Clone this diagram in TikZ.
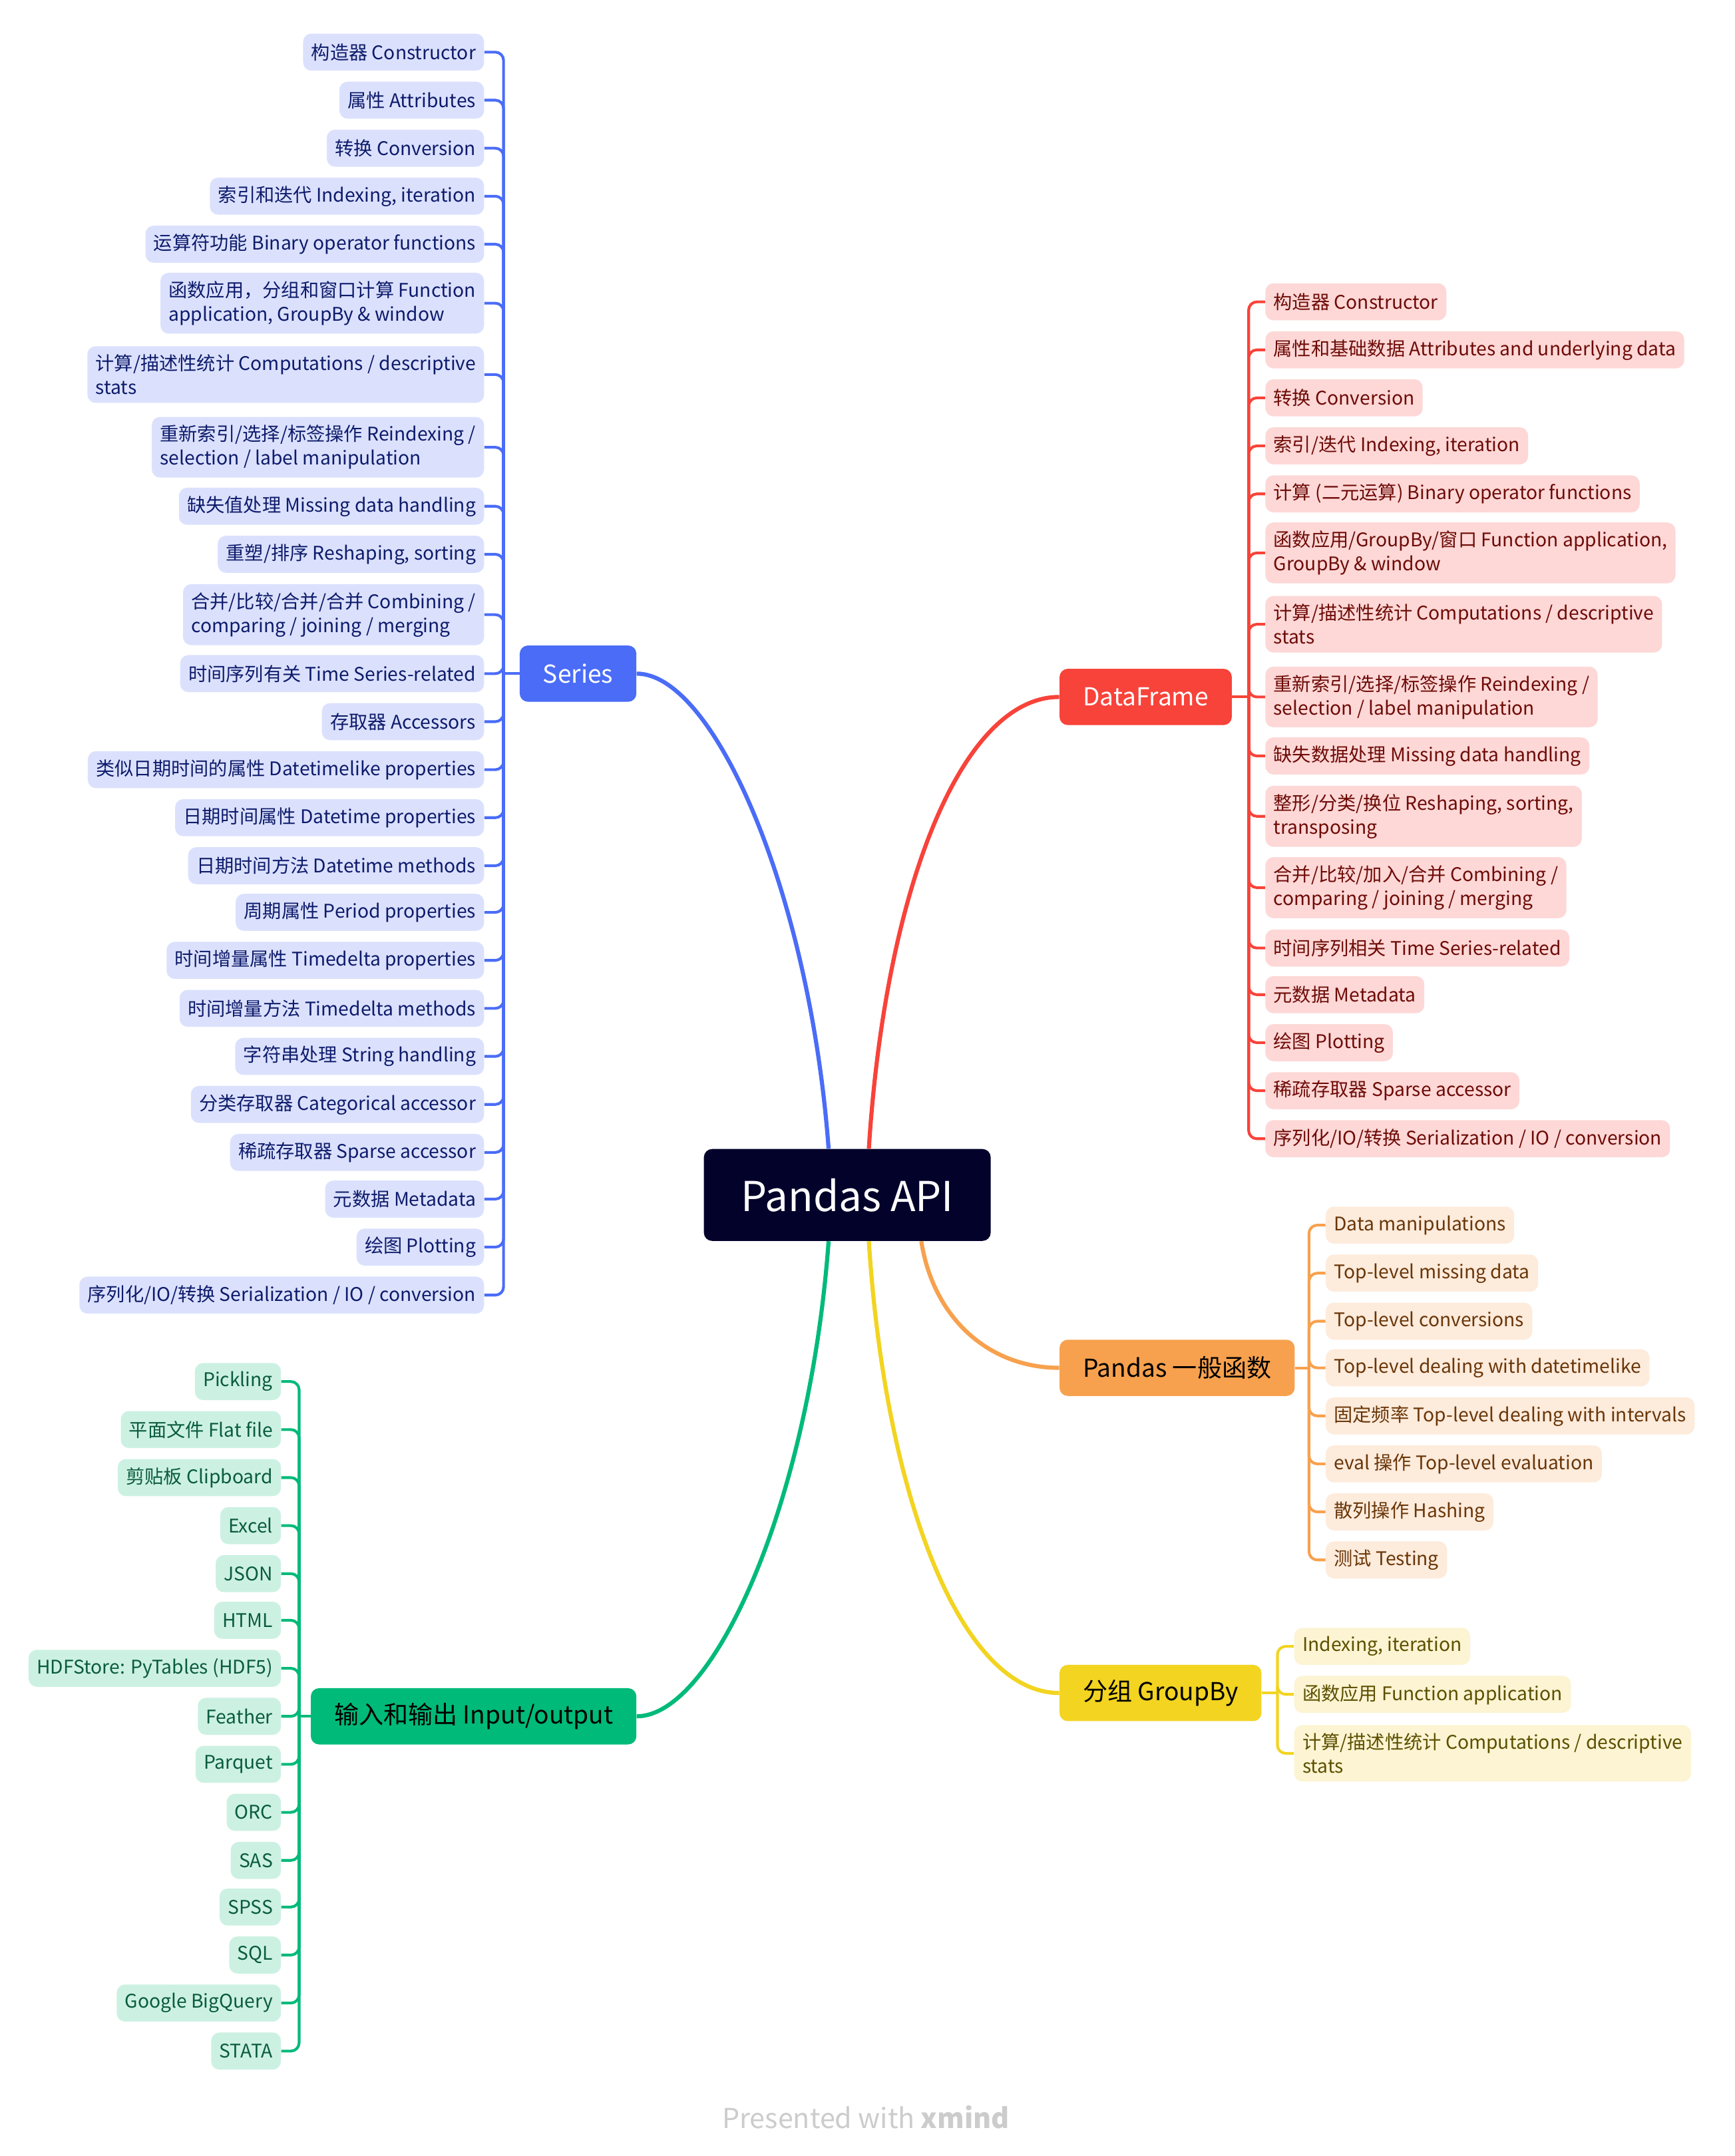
\documentclass[tikz,border=0pt]{standalone}
\usepackage{fontspec}
\setmainfont{Noto Sans CJK SC}

\definecolor{serblue}{HTML}{4A6CF7}
\definecolor{serfill}{HTML}{DBE1FD}
\definecolor{sertext}{HTML}{0E1B6B}
\definecolor{dfred}{HTML}{F7433A}
\definecolor{dffill}{HTML}{FDD8D7}
\definecolor{dftext}{HTML}{6E0B07}
\definecolor{fnorange}{HTML}{F7A14E}
\definecolor{fnfill}{HTML}{FDEBDC}
\definecolor{fntext}{HTML}{6A3608}
\definecolor{gbyellow}{HTML}{F2D421}
\definecolor{gbfill}{HTML}{FCF4D2}
\definecolor{gbtext}{HTML}{5C4F00}
\definecolor{iogreen}{HTML}{00BA7A}
\definecolor{iofill}{HTML}{CCF1E3}
\definecolor{iotext}{HTML}{0A5B3F}
\definecolor{rootbg}{HTML}{02022B}
\definecolor{markgray}{HTML}{CCCCCC}

\begin{document}
\begin{tikzpicture}[x=1pt,y=-1pt,
    leaf/.style={rounded corners=6pt,inner xsep=6pt,inner ysep=6pt,minimum height=27pt,
        align=left,font=\fontsize{13.7}{17.5}\selectfont},
    branch/.style={rounded corners=6pt,minimum height=41pt,inner xsep=17pt,
        font=\fontsize{18}{22}\selectfont},
    ser/.style={leaf,fill=serfill,text=sertext,anchor=east},
    df/.style={leaf,fill=dffill,text=dftext,anchor=west},
    fn/.style={leaf,fill=fnfill,text=fntext,anchor=west},
    gb/.style={leaf,fill=gbfill,text=gbtext,anchor=west},
    io/.style={leaf,fill=iofill,text=iotext,anchor=east},
    twig/.style={line width=2pt,rounded corners=6pt},
    limb/.style={line width=3pt}]
    \fill[white] (0,0) rectangle (1264,1571.5);
    \useasboundingbox (0,0) rectangle (1264,1571.5);

    % centre
    \node[fill=rootbg,text=white,rounded corners=6pt,minimum width=209pt,minimum height=67pt,
        font=\fontsize{30}{34}\selectfont] (root) at (617.5,871) {Pandas API};

    % main topics
    \node[branch,fill=serblue,text=white,anchor=east] (ser) at (464,491) {Series};
    \node[branch,fill=dfred,text=white,anchor=west] (df) at (772,508) {DataFrame};
    \node[branch,fill=fnorange,text=black,anchor=west] (fn) at (772,997) {Pandas 一般函数};
    \node[branch,fill=gbyellow,text=black,anchor=west] (gb) at (772,1234) {分组 GroupBy};
    \node[branch,fill=iogreen,text=black,anchor=east] (io) at (464,1251) {输入和输出 Input/output};

    \draw[limb,serblue] (root.112) .. controls (590,650) and (520,491) .. (ser.east);
    \draw[limb,dfred] (root.65) .. controls (645,650) and (700,508) .. (df.west);
    \draw[limb,fnorange] (root.-32.5) .. controls (680,960) and (720,997) .. (fn.west);
    \draw[limb,gbyellow] (root.-65) .. controls (645,1090) and (700,1234) .. (gb.west);
    \draw[limb,iogreen] (root.-112) .. controls (590,1095) and (520,1251) .. (io.east);

    % Series
    \node[ser] (s1) at (353,38) {构造器 Constructor};
    \node[ser] (s2) at (353,73) {属性 Attributes};
    \node[ser] (s3) at (353,108) {转换 Conversion};
    \node[ser] (s4) at (353,143) {索引和迭代 Indexing, iteration};
    \node[ser] (s5) at (353,178) {运算符功能 Binary operator functions};
    \node[ser] (s6) at (353,221) {函数应用，分组和窗口计算 Function\\application, GroupBy \& window};
    \node[ser] (s7) at (353,273) {计算/描述性统计 Computations / descriptive\\stats};
    \node[ser] (s8) at (353,326) {重新索引/选择/标签操作 Reindexing /\\selection / label manipulation};
    \node[ser] (s9) at (353,369) {缺失值处理 Missing data handling};
    \node[ser] (s10) at (353,404) {重塑/排序 Reshaping, sorting};
    \node[ser] (s11) at (353,448) {合并/比较/合并/合并 Combining /\\comparing / joining / merging};
    \node[ser] (s12) at (353,491) {时间序列有关 Time Series-related};
    \node[ser] (s13) at (353,526) {存取器 Accessors};
    \node[ser] (s14) at (353,561) {类似日期时间的属性 Datetimelike properties};
    \node[ser] (s15) at (353,596) {日期时间属性 Datetime properties};
    \node[ser] (s16) at (353,631) {日期时间方法 Datetime methods};
    \node[ser] (s17) at (353,665) {周期属性 Period properties};
    \node[ser] (s18) at (353,700) {时间增量属性 Timedelta properties};
    \node[ser] (s19) at (353,735) {时间增量方法 Timedelta methods};
    \node[ser] (s20) at (353,770) {字符串处理 String handling};
    \node[ser] (s21) at (353,805) {分类存取器 Categorical accessor};
    \node[ser] (s22) at (353,840) {稀疏存取器 Sparse accessor};
    \node[ser] (s23) at (353,874) {元数据 Metadata};
    \node[ser] (s24) at (353,909) {绘图 Plotting};
    \node[ser] (s25) at (353,944) {序列化/IO/转换 Serialization / IO / conversion};
    \coordinate (sj) at (367,491);
    \draw[twig,serblue] (ser.west) -- (sj);
    \foreach \i in {1,...,25} \draw[twig,serblue] (sj) |- (s\i.east);

    % DataFrame
    \node[df] (d1) at (922,220) {构造器 Constructor};
    \node[df] (d2) at (922,255) {属性和基础数据 Attributes and underlying data};
    \node[df] (d3) at (922,290) {转换 Conversion};
    \node[df] (d4) at (922,325) {索引/迭代 Indexing, iteration};
    \node[df] (d5) at (922,360) {计算 (二元运算) Binary operator functions};
    \node[df] (d6) at (922,403) {函数应用/GroupBy/窗口 Function application,\\GroupBy \& window};
    \node[df] (d7) at (922,455) {计算/描述性统计 Computations / descriptive\\stats};
    \node[df] (d8) at (922,508) {重新索引/选择/标签操作 Reindexing /\\selection / label manipulation};
    \node[df] (d9) at (922,551) {缺失数据处理 Missing data handling};
    \node[df] (d10) at (922,595) {整形/分类/换位 Reshaping, sorting,\\transposing};
    \node[df] (d11) at (922,647) {合并/比较/加入/合并 Combining /\\comparing / joining / merging};
    \node[df] (d12) at (922,691) {时间序列相关 Time Series-related};
    \node[df] (d13) at (922,725) {元数据 Metadata};
    \node[df] (d14) at (922,760) {绘图 Plotting};
    \node[df] (d15) at (922,795) {稀疏存取器 Sparse accessor};
    \node[df] (d16) at (922,830) {序列化/IO/转换 Serialization / IO / conversion};
    \coordinate (dj) at (910,508);
    \draw[twig,dfred] (df.east) -- (dj);
    \foreach \i in {1,...,16} \draw[twig,dfred] (dj) |- (d\i.west);

    % Pandas general functions
    \node[fn] (f1) at (966,893) {Data manipulations};
    \node[fn] (f2) at (966,928) {Top-level missing data};
    \node[fn] (f3) at (966,963) {Top-level conversions};
    \node[fn] (f4) at (966,997) {Top-level dealing with datetimelike};
    \node[fn] (f5) at (966,1032) {固定频率 Top-level dealing with intervals};
    \node[fn] (f6) at (966,1067) {eval 操作 Top-level evaluation};
    \node[fn] (f7) at (966,1102) {散列操作 Hashing};
    \node[fn] (f8) at (966,1137) {测试 Testing};
    \coordinate (fj) at (954,997);
    \draw[twig,fnorange] (fn.east) -- (fj);
    \foreach \i in {1,...,8} \draw[twig,fnorange] (fj) |- (f\i.west);

    % GroupBy
    \node[gb] (g1) at (943,1200) {Indexing, iteration};
    \node[gb] (g2) at (943,1235) {函数应用 Function application};
    \node[gb] (g3) at (943,1278) {计算/描述性统计 Computations / descriptive\\stats};
    \coordinate (gj) at (931,1234);
    \draw[twig,gbyellow] (gb.east) -- (gj);
    \foreach \i in {1,...,3} \draw[twig,gbyellow] (gj) |- (g\i.west);

    % Input/output
    \node[io] (o1) at (205,1007) {Pickling};
    \node[io] (o2) at (205,1042) {平面文件 Flat file};
    \node[io] (o3) at (205,1077) {剪贴板 Clipboard};
    \node[io] (o4) at (205,1112) {Excel};
    \node[io] (o5) at (205,1147) {JSON};
    \node[io] (o6) at (205,1181) {HTML};
    \node[io] (o7) at (205,1216) {HDFStore: PyTables (HDF5)};
    \node[io] (o8) at (205,1251) {Feather};
    \node[io] (o9) at (205,1286) {Parquet};
    \node[io] (o10) at (205,1321) {ORC};
    \node[io] (o11) at (205,1356) {SAS};
    \node[io] (o12) at (205,1390) {SPSS};
    \node[io] (o13) at (205,1425) {SQL};
    \node[io] (o14) at (205,1460) {Google BigQuery};
    \node[io] (o15) at (205,1495) {STATA};
    \coordinate (oj) at (218,1251);
    \draw[twig,iogreen] (io.west) -- (oj);
    \foreach \i in {1,...,15} \draw[twig,iogreen] (oj) |- (o\i.east);

    \node[text=markgray,font=\fontsize{20}{24}\selectfont] (mark) at (631,1543)
        {Presented with \textbf{xmind}};
\end{tikzpicture}
\end{document}
